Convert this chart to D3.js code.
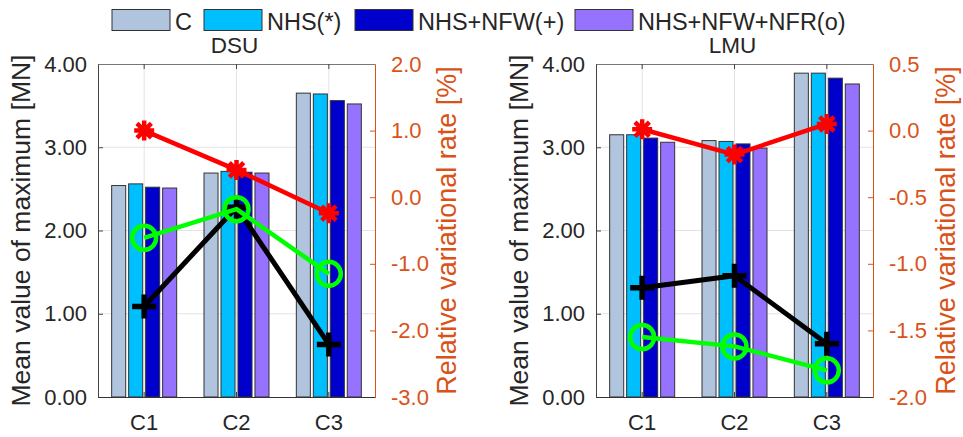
<!DOCTYPE html>
<html>
<head>
<meta charset="utf-8">
<script src="https://cdn.jsdelivr.net/npm/d3@7"></script>
<style>
  html, body { margin: 0; padding: 0; background: #fff; }
  svg { display: block; }
  svg text { font-family: "Liberation Sans", Arial, sans-serif; }
</style>
</head>
<body>
<svg id="chart" width="963" height="437"></svg>
<script>
// ---- data ----
const categories = ["C1", "C2", "C3"];
const seriesNames = ["C", "NHS(*)", "NHS+NFW(+)", "NHS+NFW+NFR(o)"];
const barColors = ["#b0c4de", "#00bfff", "#0000cd", "#9673ff"];

// mean value of maximum [MN], DSU
const dsuC         = [2.54, 2.69, 3.65];
const dsuNHS       = [2.56, 2.71, 3.64];
const dsuNHSNFW    = [2.52, 2.70, 3.56];
const dsuNHSNFWNFR = [2.51, 2.69, 3.52];
// relative variational rate [%], DSU
const dsuRateNHS       = [1.00, 0.41, -0.24];
const dsuRateNHSNFW    = [-1.64, -0.15, -2.21];
const dsuRateNHSNFWNFR = [-0.61, -0.18, -1.15];

// mean value of maximum [MN], LMU
const lmuC         = [3.15, 3.08, 3.89];
const lmuNHS       = [3.15, 3.07, 3.89];
const lmuNHSNFW    = [3.11, 3.04, 3.83];
const lmuNHSNFWNFR = [3.06, 2.99, 3.76];
// relative variational rate [%], LMU
const lmuRateNHS       = [0.01, -0.18, 0.05];
const lmuRateNHSNFW    = [-1.18, -1.09, -1.60];
const lmuRateNHSNFWNFR = [-1.55, -1.62, -1.80];

const leftTicks = [0, 1, 2, 3, 4];
const dsuRightTicks = [2, 1, 0, -1, -2, -3];
const lmuRightTicks = [0.5, 0, -0.5, -1, -1.5, -2];

// ---- styling ----
const FONT = "'Liberation Sans', Arial, sans-serif";
const ORANGE = "#d95319";
const INK = "#262626";
const GRID = "#e3e3e3";
const plotTop = 64, plotBottom = 397;

const svg = d3.select("#chart");

const panels = [
  { title: "DSU", x0: 98, x1: 375,
    bars: [dsuC, dsuNHS, dsuNHSNFW, dsuNHSNFWNFR],
    rates: [dsuRateNHS, dsuRateNHSNFW, dsuRateNHSNFWNFR],
    rTicks: dsuRightTicks, rDomain: [-3, 2],
    leftLabelX: 30, rightLabelX: 456 },
  { title: "LMU", x0: 596, x1: 873,
    bars: [lmuC, lmuNHS, lmuNHSNFW, lmuNHSNFWNFR],
    rates: [lmuRateNHS, lmuRateNHSNFW, lmuRateNHSNFWNFR],
    rTicks: lmuRightTicks, rDomain: [-2, 0.5],
    leftLabelX: 528, rightLabelX: 955 }
];

const lineStyles = [
  { color: "#ff0000", width: 4.5, marker: "asterisk" },
  { color: "#000000", width: 5, marker: "plus" },
  { color: "#00ff00", width: 4.5, marker: "circle" }
];

const fmtRate = d => d3.format(".1f")(d).replace("−", "-");

function styleAxis(sel, color, fontSize) {
  sel.attr("font-family", FONT).attr("font-size", fontSize);
  sel.selectAll("text").attr("fill", color);
}

panels.forEach(p => {
  const g = svg.append("g");
  const x = d3.scaleBand().domain(categories).range([p.x0, p.x1]).paddingInner(0).paddingOuter(0);
  const step = x.step();
  const cx = c => x(c) + step / 2;
  const yL = d3.scaleLinear().domain([0, 4]).range([plotBottom, plotTop]);
  const yR = d3.scaleLinear().domain(p.rDomain).range([plotBottom, plotTop]);

  // grid
  g.append("g").selectAll("line").data(leftTicks.slice(1, -1)).join("line")
    .attr("x1", p.x0).attr("x2", p.x1)
    .attr("y1", d => yL(d)).attr("y2", d => yL(d))
    .attr("stroke", GRID).attr("stroke-width", 1);
  g.append("g").selectAll("line").data(categories).join("line")
    .attr("x1", d => cx(d)).attr("x2", d => cx(d))
    .attr("y1", plotTop).attr("y2", plotBottom)
    .attr("stroke", GRID).attr("stroke-width", 1);

  // grouped bars
  const barW = step * 0.152, barGap = step * 0.184;
  p.bars.forEach((vals, si) => {
    g.append("g").selectAll("rect").data(vals).join("rect")
      .attr("x", (d, i) => cx(categories[i]) + (si - 1.5) * barGap - barW / 2)
      .attr("width", barW)
      .attr("y", d => yL(d))
      .attr("height", d => plotBottom - yL(d))
      .attr("fill", barColors[si])
      .attr("stroke", "#333").attr("stroke-width", 1);
  });

  // axes frame
  const yAxisL = d3.axisLeft(yL).tickValues(leftTicks).tickFormat(d3.format(".2f")).tickSizeInner(-5).tickSizeOuter(0).tickPadding(11);
  const gl = g.append("g").attr("transform", `translate(${p.x0},0)`).call(yAxisL);
  gl.select(".domain").attr("stroke", "#444").attr("stroke-width", 1);
  gl.selectAll(".tick line").attr("stroke", "#444");
  styleAxis(gl, INK, 22);

  const yAxisR = d3.axisRight(yR).tickValues(p.rTicks).tickFormat(fmtRate).tickSizeInner(-5).tickSizeOuter(0).tickPadding(16);
  const gr = g.append("g").attr("transform", `translate(${p.x1},0)`).call(yAxisR);
  gr.select(".domain").attr("stroke", ORANGE).attr("stroke-width", 1);
  gr.selectAll(".tick line").attr("stroke", ORANGE);
  styleAxis(gr, ORANGE, 22);

  const xAxisB = d3.axisBottom(x).tickSizeInner(-5).tickSizeOuter(0).tickPadding(17);
  const gb = g.append("g").attr("transform", `translate(0,${plotBottom})`).call(xAxisB);
  gb.select(".domain").attr("stroke", "#333").attr("stroke-width", 1.2);
  gb.selectAll(".tick line").attr("stroke", "#444");
  styleAxis(gb, INK, 22);

  const xAxisT = d3.axisTop(x).tickSizeInner(-5).tickSizeOuter(0).tickFormat("");
  const gt = g.append("g").attr("transform", `translate(0,${plotTop})`).call(xAxisT);
  gt.select(".domain").attr("stroke", "#777").attr("stroke-width", 1);
  gt.selectAll(".tick line").attr("stroke", "#444");

  // rate lines and markers
  p.rates.forEach((vals, li) => {
    const st = lineStyles[li];
    const pts = vals.map((v, i) => [cx(categories[i]), yR(v)]);
    g.append("path").attr("d", d3.line()(pts))
      .attr("fill", "none").attr("stroke", st.color)
      .attr("stroke-width", st.width).attr("stroke-linejoin", "round");
    const mg = g.append("g");
    pts.forEach(([px, py]) => {
      if (st.marker === "circle") {
        mg.append("circle").attr("cx", px).attr("cy", py).attr("r", 12)
          .attr("fill", "none").attr("stroke", st.color).attr("stroke-width", 4.5);
      } else if (st.marker === "plus") {
        const h = 12;
        mg.append("path").attr("d", `M${px - h},${py}H${px + h}M${px},${py - h}V${py + h}`)
          .attr("stroke", st.color).attr("stroke-width", 5.5);
      } else {
        const h = 10, dd = 7.2;
        mg.append("path")
          .attr("d", `M${px - h},${py}H${px + h}M${px},${py - h}V${py + h}` +
                     `M${px - dd},${py - dd}L${px + dd},${py + dd}M${px - dd},${py + dd}L${px + dd},${py - dd}`)
          .attr("stroke", st.color).attr("stroke-width", 4.5);
      }
    });
  });

  // titles
  g.append("text").attr("x", (p.x0 + p.x1) / 2 - 2).attr("y", 53)
    .attr("text-anchor", "middle").attr("font-size", 22.5).attr("fill", INK).text(p.title);

  g.append("text")
    .attr("transform", `translate(${p.leftLabelX},${(plotTop + plotBottom) / 2}) rotate(-90)`)
    .attr("text-anchor", "middle").attr("font-size", 26.5).attr("fill", INK)
    .text("Mean value of maximum [MN]");
  g.append("text")
    .attr("transform", `translate(${p.rightLabelX},${(plotTop + plotBottom) / 2}) rotate(-90)`)
    .attr("text-anchor", "middle").attr("font-size", 27).attr("fill", ORANGE)
    .text("Relative variational rate [%]");
});

// legend
const legendX = [112, 204, 355, 575];
const lg = svg.append("g");
seriesNames.forEach((name, i) => {
  lg.append("rect").attr("x", legendX[i]).attr("y", 9.5).attr("width", 58).attr("height", 21)
    .attr("fill", barColors[i]).attr("stroke", "#333").attr("stroke-width", 1);
  lg.append("text").attr("x", legendX[i] + 63).attr("y", 29.5)
    .attr("font-size", 23.5).attr("fill", INK).text(name);
});
</script>
</body>
</html>
